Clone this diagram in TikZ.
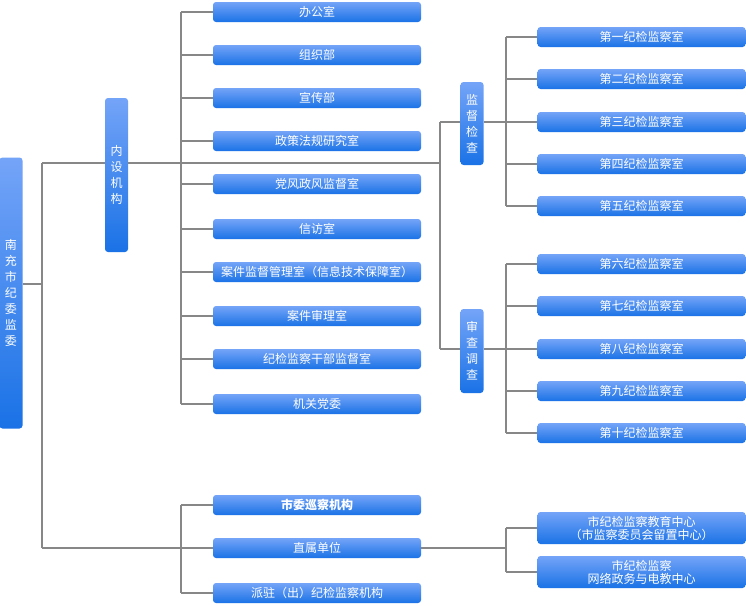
\documentclass[tikz,border=0pt]{standalone}
\usepackage{fontspec}
\setmainfont{Noto Sans CJK SC}
\begin{document}
\begin{tikzpicture}[x=1pt,y=-1pt,
  ln/.style={draw=black!47,line width=1.6pt},
  bx/.style={rounded corners=3pt,top color=blue1,bottom color=blue2,draw=none,text=white,font=\fontsize{12}{13}\selectfont,inner sep=0pt,align=center},
  hb/.style={bx,minimum width=208pt,minimum height=20pt},
  vb/.style={bx,minimum width=23pt,font=\fontsize{12}{16}\selectfont}]
\definecolor{blue1}{HTML}{74A4F8}
\definecolor{blue2}{HTML}{1A72E6}
\useasboundingbox (0,0) rectangle (746,605);
\node[vb,minimum height=271pt] (root) at (11,293) {南\\充\\市\\纪\\委\\监\\委};
\node[vb,minimum height=154pt] (ns) at (116.5,175) {内\\设\\机\\构};
\node[vb,minimum height=83pt] (jd) at (472,123.5) {监\\督\\检\\查};
\node[vb,minimum height=84pt] (sc) at (472,351) {审\\查\\调\\查};
\foreach \t/\y [count=\i] in {办公室/12,组织部/55,宣传部/98,政策法规研究室/141,党风政风监督室/184,信访室/229,案件监督管理室（信息技术保障室）/272,案件审理室/316,纪检监察干部监督室/359,机关党委/404}
  {\node[hb] (a\i) at (317,\y) {\t}; \draw[ln] (181,\y) -- (a\i.west);}
\draw[ln] (181,12) -- (181,404);
\foreach \t/\y [count=\i] in {第一/37,第二/79,第三/122,第四/164,第五/206,第六/264,第七/306,第八/349,第九/391,第十/433}
  {\node[hb] (r\i) at (641.5,\y) {\t 纪检监察室}; \draw[ln] (506,\y) -- (r\i.west);}
\draw[ln] (506,37) -- (506,206) (506,264) -- (506,433);
\draw[ln] (jd.east|-0,122) -- (506,122) (sc.east|-0,349) -- (506,349);
\draw[ln] (440,122) -- (jd.west|-0,122) (440,349) -- (sc.west|-0,349) (440,122) -- (440,349);
\draw[ln] (root.east|-0,284) -- (42,284);
\draw[ln] (42,163) -- (42,548);
\draw[ln] (42,163) -- (ns.west|-0,163) (ns.east|-0,163) -- (440,163);
\node[hb,font=\fontsize{12}{13}\selectfont\bfseries] (b1) at (317,505) {市委巡察机构};
\node[hb] (b2) at (317,548) {直属单位};
\node[hb] (b3) at (317,593) {派驻（出）纪检监察机构};
\draw[ln] (181,505) -- (b1.west) (181,593) -- (b3.west) (181,505) -- (181,593);
\draw[ln] (42,548) -- (b2.west);
\node[hb,minimum height=32pt] (c1) at (641.5,528) {市纪检监察教育中心\\（市监察委员会留置中心）};
\node[hb,minimum height=32pt] (c2) at (641.5,572) {市纪检监察\\网络政务与电教中心};
\draw[ln] (b2.east) -- (506,548) (506,528) -- (506,572) (506,528) -- (c1.west) (506,572) -- (c2.west);
\end{tikzpicture}
\end{document}
